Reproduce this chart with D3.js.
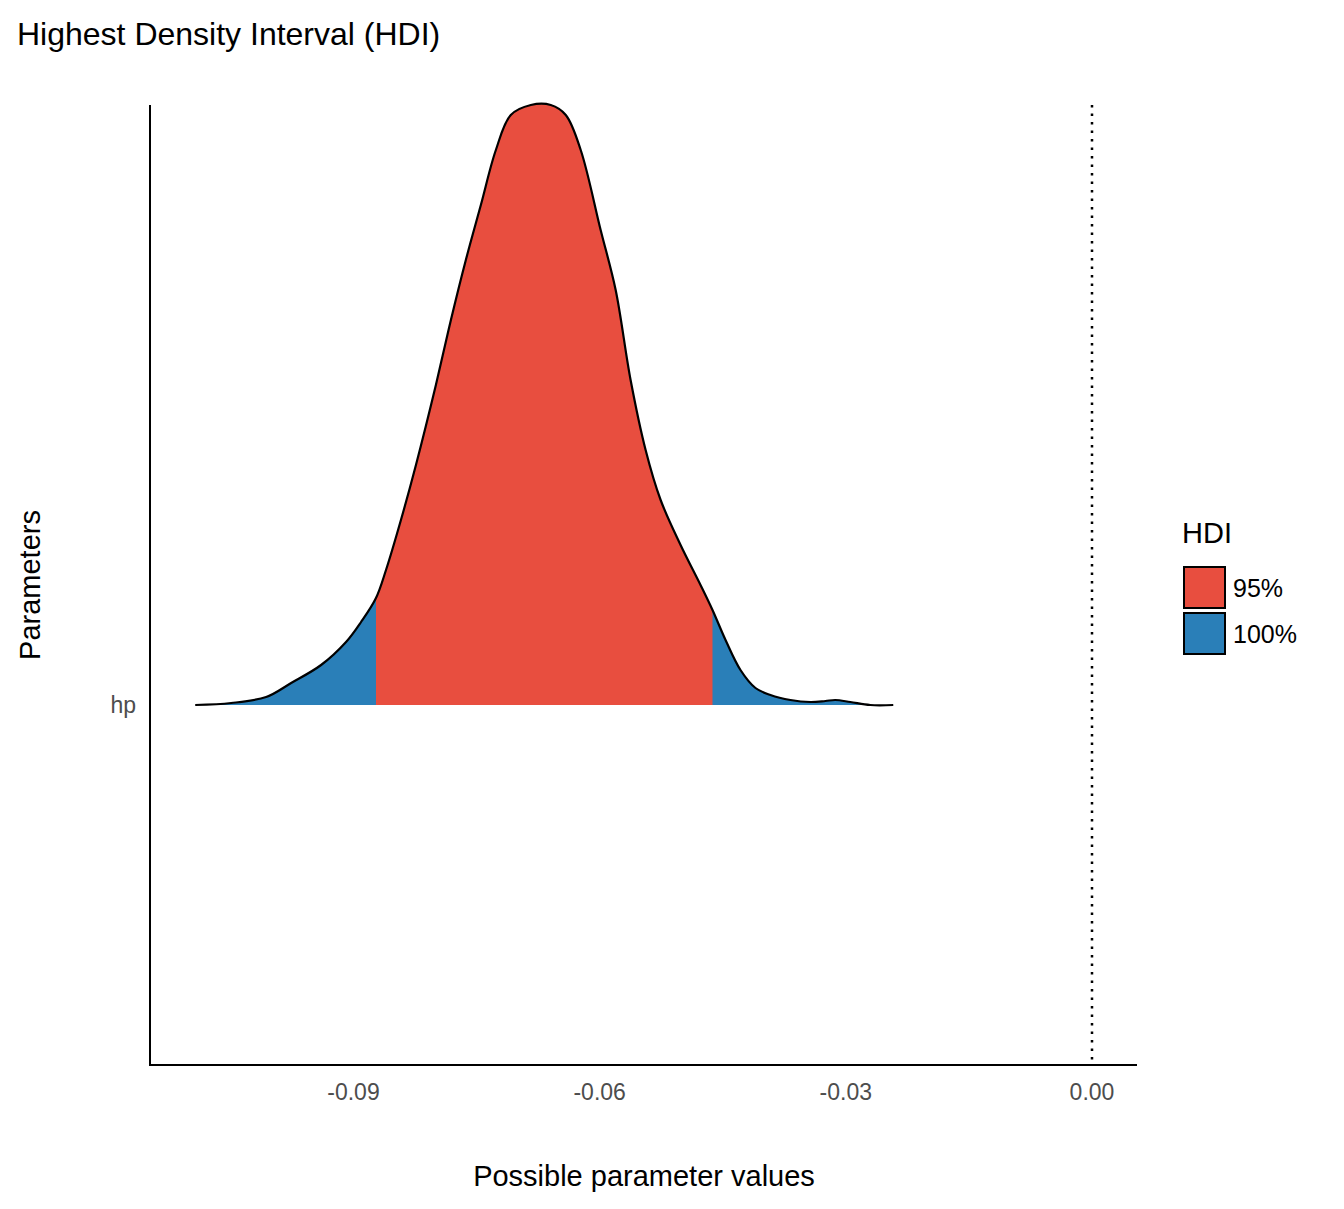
<!DOCTYPE html>
<html><head><meta charset="utf-8">
<script src="https://cdn.jsdelivr.net/npm/d3@7"></script>
<style>body{margin:0;background:#fff}text{font-family:"Liberation Sans",Arial,sans-serif}</style>
</head><body><div id="chart"></div>
<script>
// posterior density of hp
const xs = [-0.10929,-0.10491,-0.10065,-0.09760,-0.09395,-0.09091,-0.08908,-0.08726,-0.08604,-0.08422,
  -0.08239,-0.07996,-0.07813,-0.07631,-0.07448,-0.07265,-0.07083,-0.06839,-0.06596,-0.06413,
  -0.06231,-0.05988,-0.05805,-0.05623,-0.05440,-0.05257,-0.05014,-0.04771,-0.04625,-0.04466,
  -0.04284,-0.04101,-0.03919,-0.03675,-0.03432,-0.03249,-0.03128,-0.02945,-0.02702,-0.02422]
const dens = [0,0.1,0.4,1.1,2.0,3.15,4.15,5.35,6.75,9.25,12,16,19.25,22.25,25,27.75,29.5,30,30,29.5,
  27.75,23.75,20.75,16.25,12.75,10.25,8,6,4.75,3.25,1.75,0.85,0.5,0.25,0.15,0.2,0.25,0.15,0,0]
const hdi95 = [-0.08726, -0.04625]
const xTicks = [-0.09, -0.06, -0.03, 0.00]
const legendLabels = ['95%', '100%']
const legendColors = ['#e84e3f', '#2a7fb8']

const pts = xs.map((x, i) => ({x: x, d: dens[i]}))

const svg = d3.select('#chart').append('svg')
  .attr('width', 1344).attr('height', 1209)

const x = d3.scaleLinear().domain([-0.09, 0]).range([353.5, 1092])
const y = d3.scaleLinear().domain([-18, 30]).range([1065, 105])

const area = d3.area().x(d => x(d.x)).y0(y(0)).y1(d => y(d.d)).curve(d3.curveCatmullRom)
const line = d3.line().x(d => x(d.x)).y(d => y(d.d)).curve(d3.curveCatmullRom)

svg.append('clipPath').attr('id', 'c95').append('rect')
  .attr('x', x(hdi95[0])).attr('width', x(hdi95[1]) - x(hdi95[0]))
  .attr('y', 0).attr('height', 1209)

svg.append('path').datum(pts).attr('d', area).attr('fill', legendColors[1])
svg.append('path').datum(pts).attr('d', area).attr('fill', legendColors[0]).attr('clip-path', 'url(#c95)')
svg.append('path').datum(pts).attr('d', line).attr('fill', 'none')
  .attr('stroke', 'black').attr('stroke-width', 2.2)

// zero line
svg.append('line').attr('x1', x(0)).attr('x2', x(0)).attr('y1', 105).attr('y2', 1065)
  .attr('stroke', 'black').attr('stroke-width', 2.5).attr('stroke-dasharray', '2.5,6')

// axes
svg.append('line').attr('x1', 150).attr('x2', 150).attr('y1', 105).attr('y2', 1065)
  .attr('stroke', 'black').attr('stroke-width', 2)
svg.append('line').attr('x1', 149).attr('x2', 1137).attr('y1', 1065).attr('y2', 1065)
  .attr('stroke', 'black').attr('stroke-width', 2)

svg.selectAll('.xt').data(xTicks).enter().append('text')
  .attr('x', d => x(d)).attr('y', 1100).attr('text-anchor', 'middle')
  .attr('font-size', 23).attr('fill', '#4d4d4d').text(d => d.toFixed(2))

svg.append('text').attr('x', 136).attr('y', y(0) + 8).attr('text-anchor', 'end')
  .attr('font-size', 23).attr('fill', '#4d4d4d').text('hp')

svg.append('text').attr('x', 17).attr('y', 45).attr('font-size', 32).text('Highest Density Interval (HDI)')
svg.append('text').attr('x', 644).attr('y', 1186).attr('text-anchor', 'middle')
  .attr('font-size', 29).text('Possible parameter values')
svg.append('text').attr('transform', 'translate(40,585) rotate(-90)').attr('text-anchor', 'middle')
  .attr('font-size', 29).text('Parameters')

// legend
svg.append('text').attr('x', 1182).attr('y', 543).attr('font-size', 29).text('HDI')
legendLabels.forEach((l, i) => {
  svg.append('rect').attr('x', 1184).attr('y', 567 + i * 46).attr('width', 41).attr('height', 41)
    .attr('fill', legendColors[i]).attr('stroke', 'black').attr('stroke-width', 2)
  svg.append('text').attr('x', 1233).attr('y', 597 + i * 46).attr('font-size', 25).text(l)
})
</script></body></html>
